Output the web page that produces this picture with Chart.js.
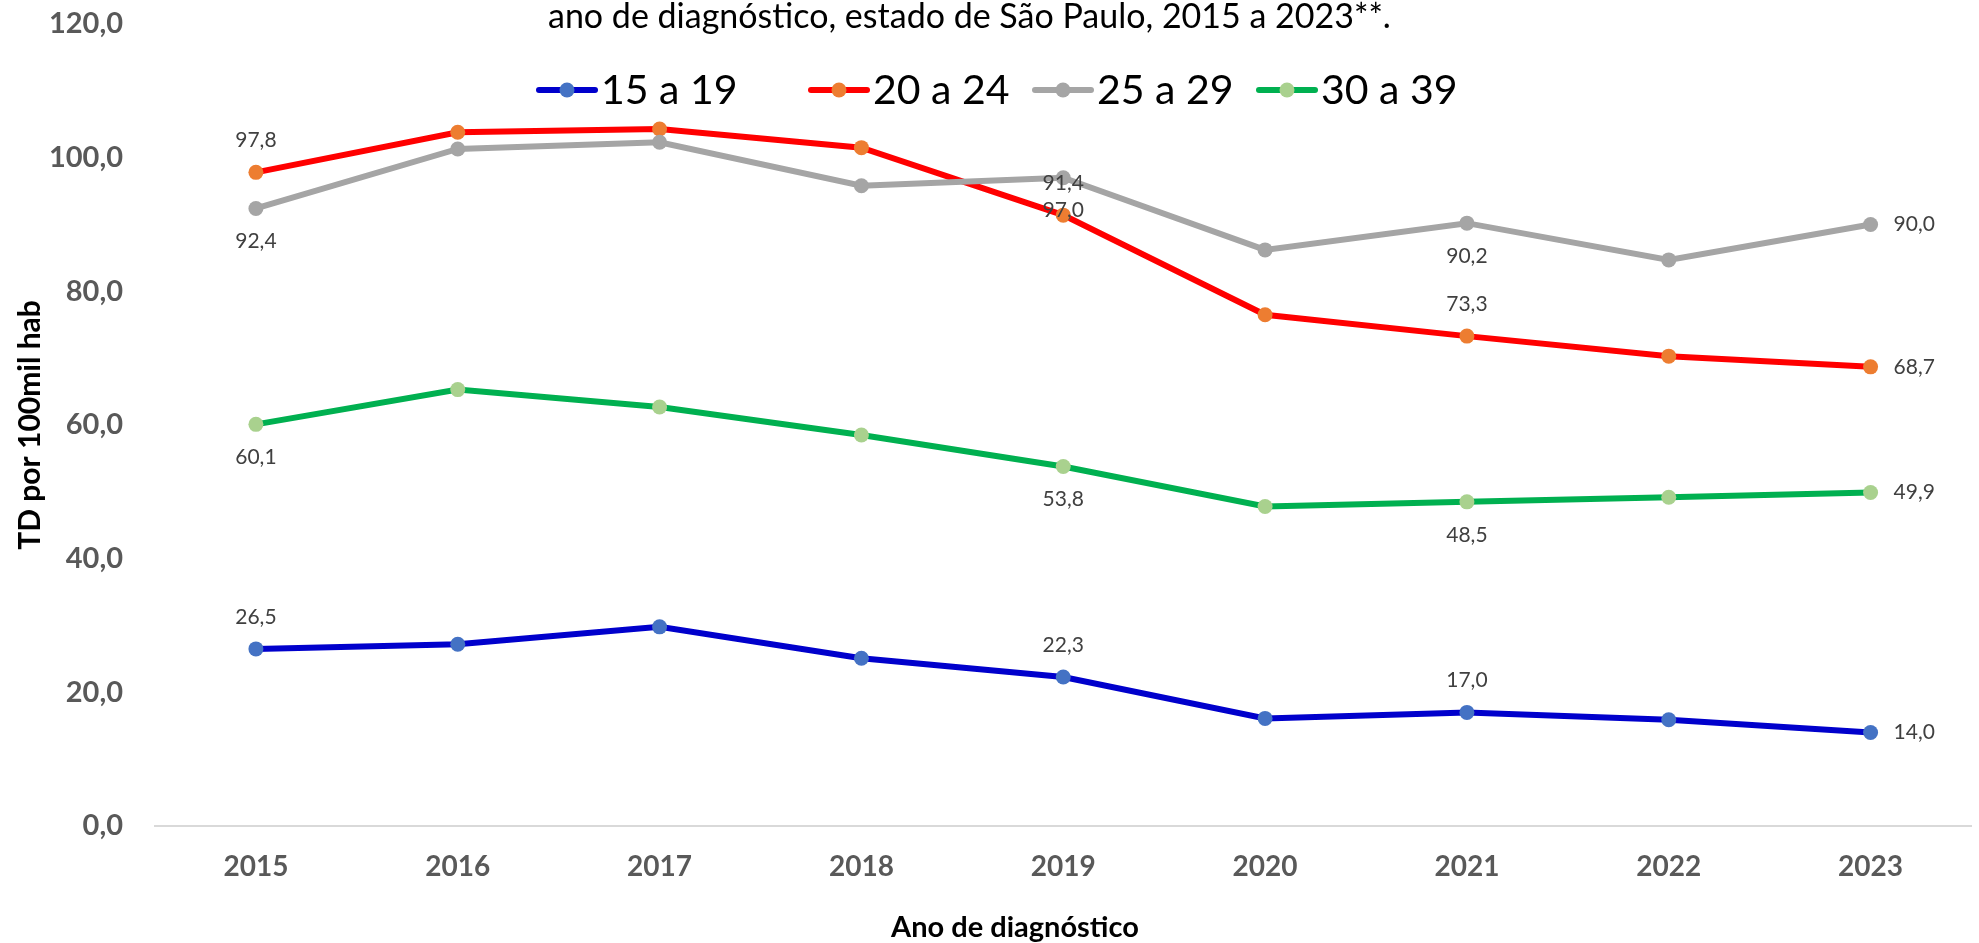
<!DOCTYPE html>
<html>
<head>
<meta charset="utf-8">
<title>TD por faixa etária</title>
<script src="https://cdn.jsdelivr.net/npm/chart.js@4.4.1/dist/chart.umd.min.js"></script>
<style>
  html, body { margin: 0; padding: 0; background: #fff; }
  #wrap { width: 1979px; height: 943px; position: relative; }
</style>
</head>
<body>
<div id="wrap"><canvas id="tdChart"></canvas></div>
<script>
// Dados
const years = ["2015", "2016", "2017", "2018", "2019", "2020", "2021", "2022", "2023"];
const ageGroups = ["15 a 19", "20 a 24", "25 a 29", "30 a 39"];
const rate15to19 = [26.5, 27.2, 29.8, 25.1, 22.3, 16.1, 17.0, 15.9, 14.0];
const rate20to24 = [97.8, 103.8, 104.3, 101.5, 91.4, 76.5, 73.3, 70.3, 68.7];
const rate25to29 = [92.4, 101.3, 102.3, 95.8, 97.0, 86.2, 90.2, 84.7, 90.0];
const rate30to39 = [60.1, 65.3, 62.7, 58.5, 53.8, 47.8, 48.5, 49.2, 49.9];
const yTicks = [0, 20, 40, 60, 80, 100, 120];
const labelledYears = ["2015", "2019", "2021", "2023"];

const titleText = "ano de diagnóstico, estado de São Paulo, 2015 a 2023**.";
const xTitle = "Ano de diagnóstico";

const lineColors = ["#0000CC", "#FF0000", "#A5A5A5", "#00B050"];
const pointColors = ["#4472C4", "#ED7D31", "#A5A5A5", "#A9D18E"];
const labelSide = ["above", "above", "below", "below"];

const fmt = v => v.toFixed(1).replace(".", ",");

// rótulos de dados (estilo Excel)
const dataLabels = {
  id: "dataLabels",
  afterDatasetsDraw(chart) {
    const ctx = chart.ctx;
    ctx.save();
    ctx.font = "21px Lato";
    ctx.fillStyle = "#404040";
    ctx.textBaseline = "middle";
    chart.data.datasets.forEach((ds, di) => {
      const meta = chart.getDatasetMeta(di);
      meta.data.forEach((pt, i) => {
        if (!labelledYears.includes(chart.data.labels[i])) return;
        const txt = fmt(ds.data[i]);
        if (i === ds.data.length - 1) {
          ctx.textAlign = "left";
          ctx.fillText(txt, pt.x + 23, pt.y);
        } else {
          ctx.textAlign = "center";
          const dy = labelSide[di] === "above" ? -32 : 33;
          ctx.fillText(txt, pt.x, pt.y + dy);
        }
      });
    });
    ctx.restore();
  }
};

// título, legenda e título do eixo x (sobrepostos, como no Excel)
const legendStarts = [539, 811, 1035, 1259];
const headerPlugin = {
  id: "header",
  afterDraw(chart) {
    const ctx = chart.ctx;
    ctx.save();
    ctx.fillStyle = "#000";
    ctx.font = "34px Lato";
    ctx.textAlign = "left";
    ctx.textBaseline = "alphabetic";
    ctx.fillText(titleText, 548, 28);

    ctx.font = "bold 29px Lato";
    ctx.textAlign = "center";
    ctx.fillText(xTitle, 1015, 937);

    ctx.font = "41px Lato";
    ctx.textAlign = "left";
    ctx.textBaseline = "middle";
    chart.data.datasets.forEach((ds, i) => {
      const x0 = legendStarts[i], y = 90;
      ctx.strokeStyle = ds.borderColor;
      ctx.lineWidth = 6;
      ctx.lineCap = "round";
      ctx.beginPath();
      ctx.moveTo(x0, y);
      ctx.lineTo(x0 + 56, y);
      ctx.stroke();
      ctx.fillStyle = ds.pointBackgroundColor;
      ctx.beginPath();
      ctx.arc(x0 + 28, y, 7.5, 0, Math.PI * 2);
      ctx.fill();
      ctx.fillStyle = "#000";
      ctx.fillText(ds.label, x0 + 62, y + 1);
    });
    ctx.restore();
  }
};

const series = [rate15to19, rate20to24, rate25to29, rate30to39];

new Chart(document.getElementById("tdChart"), {
  type: "line",
  data: {
    labels: years,
    datasets: series.map((data, i) => ({
      label: ageGroups[i],
      data: data,
      borderColor: lineColors[i],
      backgroundColor: lineColors[i],
      pointBackgroundColor: pointColors[i],
      pointBorderWidth: 0,
      pointRadius: 7.5,
      borderWidth: 6,
      tension: 0,
      order: series.length - i
    }))
  },
  options: {
    responsive: true,
    maintainAspectRatio: false,
    animation: false,
    layout: { padding: { top: 0, right: 3, left: 0, bottom: 0 } },
    plugins: {
      legend: { display: false },
      tooltip: { enabled: false },
      title: { display: false }
    },
    scales: {
      x: {
        offset: true,
        grid: { display: false, drawTicks: false },
        border: { display: true, color: "#D9D9D9", width: 2 },
        ticks: {
          color: "#595959",
          font: { family: "Lato", size: 28, weight: "bold" },
          padding: 24,
          maxRotation: 0
        },
        afterFit(scale) { scale.height = 117; }
      },
      y: {
        min: yTicks[0],
        max: yTicks[yTicks.length - 1],
        grid: { display: false, drawTicks: false },
        border: { display: false },
        afterBuildTicks(scale) { scale.ticks = yTicks.map(v => ({ value: v })); },
        ticks: {
          color: "#595959",
          font: { family: "Lato", size: 29, weight: "bold" },
          padding: 32,
          callback: v => fmt(v)
        },
        title: {
          display: true,
          text: "TD por 100mil hab",
          color: "#000",
          font: { family: "Lato", size: 30, weight: "bold" },
          padding: { top: 12, bottom: 0 }
        },
        afterFit(scale) {
          scale.width = 155;
          scale.paddingTop = 24;
          scale.paddingBottom = 0;
        }
      }
    }
  },
  plugins: [dataLabels, headerPlugin]
});
</script>
</body>
</html>
